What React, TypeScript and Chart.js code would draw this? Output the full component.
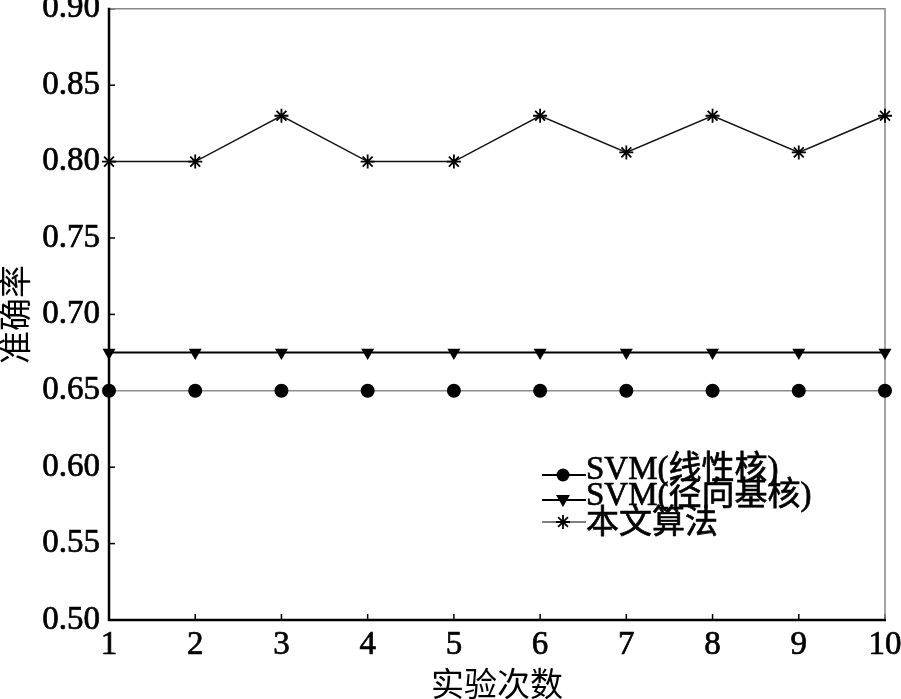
import { useEffect, useRef } from "react";
import { Chart, registerables } from "chart.js";

Chart.register(...registerables);

const runs = ["1", "2", "3", "4", "5", "6", "7", "8", "9", "10"];
const svmLinear = [0.65, 0.65, 0.65, 0.65, 0.65, 0.65, 0.65, 0.65, 0.65, 0.65];
const svmRbf = [0.675, 0.675, 0.675, 0.675, 0.675, 0.675, 0.675, 0.675, 0.675, 0.675];
const ours = [0.8, 0.8, 0.83, 0.8, 0.8, 0.83, 0.806, 0.83, 0.806, 0.83];
const seriesNames = ["SVM(线性核)", "SVM(径向基核)", "本文算法"];
const yMin = 0.5;
const yMax = 0.9;
const yStep = 0.05;
const xTitle = "实验次数";
const yTitle = "准确率";

const FONT = '"Liberation Serif", "Noto Sans CJK SC", serif';

function drawMarker(ctx: CanvasRenderingContext2D, kind: string, x: number, y: number) {
  ctx.save();
  ctx.fillStyle = "#000";
  ctx.strokeStyle = "#000";
  if (kind === "circle") {
    ctx.beginPath();
    ctx.arc(x, y, 6.5, 0, Math.PI * 2);
    ctx.fill();
  } else if (kind === "tri") {
    ctx.beginPath();
    ctx.moveTo(x - 7, y - 5);
    ctx.lineTo(x + 7, y - 5);
    ctx.lineTo(x, y + 7);
    ctx.closePath();
    ctx.fill();
  } else {
    ctx.lineWidth = 1.8;
    const r = 7;
    ctx.beginPath();
    for (let i = 0; i < 4; i++) {
      const a = (i * Math.PI) / 4;
      ctx.moveTo(x - r * Math.cos(a), y - r * Math.sin(a));
      ctx.lineTo(x + r * Math.cos(a), y + r * Math.sin(a));
    }
    ctx.stroke();
  }
  ctx.restore();
}

const framePlugin = {
  id: "frame",
  beforeDatasetsDraw(chart: any) {
    const { ctx, chartArea: a, scales } = chart;
    ctx.save();
    ctx.strokeStyle = "#000";
    ctx.lineWidth = 1.5;
    const ys = scales.y;
    for (let v = yMin; v <= yMax + 1e-9; v += yStep) {
      const py = ys.getPixelForValue(v);
      ctx.beginPath();
      ctx.moveTo(a.left, py);
      ctx.lineTo(a.left + 6, py);
      ctx.stroke();
    }
    const xs = scales.x;
    for (let i = 0; i < runs.length; i++) {
      const px = xs.getPixelForValue(i);
      ctx.beginPath();
      ctx.moveTo(px, a.bottom);
      ctx.lineTo(px, a.bottom - 6);
      ctx.stroke();
    }
    ctx.strokeStyle = "#888";
    ctx.lineWidth = 1.5;
    ctx.beginPath();
    ctx.moveTo(a.left, a.top);
    ctx.lineTo(a.right, a.top);
    ctx.lineTo(a.right, a.bottom);
    ctx.stroke();
    ctx.strokeStyle = "#000";
    ctx.lineWidth = 2.5;
    ctx.beginPath();
    ctx.moveTo(a.left, a.top - 1);
    ctx.lineTo(a.left, a.bottom);
    ctx.lineTo(a.right + 1, a.bottom);
    ctx.stroke();
    ctx.restore();
  },
  afterDraw(chart: any) {
    const { ctx } = chart;
    const kinds = ["circle", "tri", "star"];
    const rows = [475, 500, 522];
    const textY = [470, 496, 524];
    ctx.save();
    ctx.font = `33px ${FONT}`;
    ctx.textBaseline = "middle";
    ctx.fillStyle = "#000";
    for (let i = 0; i < seriesNames.length; i++) {
      const y = rows[i];
      ctx.strokeStyle = "#000";
      ctx.lineWidth = i === 2 ? 1.2 : 1.8;
      ctx.beginPath();
      ctx.moveTo(542, y);
      ctx.lineTo(586, y);
      ctx.stroke();
      drawMarker(ctx, kinds[i], 563, y);
      ctx.lineWidth = 0.7;
      ctx.strokeText(seriesNames[i], 586, textY[i]);
      ctx.fillText(seriesNames[i], 586, textY[i]);
    }
    ctx.restore();
  },
};

export default function App() {
  const ref = useRef<HTMLCanvasElement>(null);
  useEffect(() => {
    const canvas = ref.current!;
    const chart = new Chart(canvas, {
      type: "line",
      data: {
        labels: runs,
        datasets: [
          {
            label: seriesNames[0],
            data: svmLinear,
            borderColor: "#8c8c8c",
            borderWidth: 1.5,
            pointStyle: "circle",
            pointRadius: 7,
            pointBackgroundColor: "#000",
            pointBorderColor: "#000",
            pointBorderWidth: 0,
            clip: false,
          },
          {
            label: seriesNames[1],
            data: svmRbf,
            borderColor: "#000",
            borderWidth: 2,
            pointStyle: "triangle",
            rotation: 180,
            pointRadius: 7.5,
            pointBackgroundColor: "#000",
            pointBorderColor: "#000",
            pointBorderWidth: 0,
            clip: false,
          },
          {
            label: seriesNames[2],
            data: ours,
            borderColor: "#111",
            borderWidth: 1.5,
            pointStyle: "star",
            pointRadius: 7,
            pointBackgroundColor: "#000",
            pointBorderColor: "#000",
            pointBorderWidth: 1.8,
            clip: false,
          },
        ],
      },
      options: {
        responsive: false,
        animation: false,
        devicePixelRatio: 1,
        layout: { padding: { left: 0, top: 8, right: 16, bottom: 0 } },
        plugins: { legend: { display: false }, tooltip: { enabled: false } },
        scales: {
          x: {
            type: "category",
            offset: false,
            border: { display: false },
            grid: { display: false, drawTicks: false },
            ticks: {
              autoSkip: false,
              maxRotation: 0,
              padding: 6,
              color: "#000",
              textStrokeColor: "#000",
              textStrokeWidth: 0.7,
              font: { family: FONT, size: 33 },
            },
            title: {
              display: true,
              text: xTitle,
              color: "#000",
              padding: { top: 0, bottom: -5 },
              font: { family: FONT, size: 33, lineHeight: 1 },
            },
            afterFit(scale: any) {
              scale.height = 79;
              scale.paddingLeft = 0;
              scale.paddingRight = 0;
            },
          },
          y: {
            min: yMin,
            max: yMax,
            border: { display: false },
            grid: { display: false, drawTicks: false },
            ticks: {
              stepSize: yStep,
              padding: 9,
              color: "#000",
              textStrokeColor: "#000",
              textStrokeWidth: 0.7,
              font: { family: FONT, size: 33 },
              callback: (v: any) => Number(v).toFixed(2),
            },
            title: {
              display: true,
              text: yTitle,
              color: "#000",
              padding: { top: 2, bottom: 0 },
              font: { family: FONT, size: 33, lineHeight: 1 },
            },
            afterFit(scale: any) {
              scale.width = 109;
              scale.paddingTop = 0;
              scale.paddingBottom = 0;
            },
          },
        },
      },
      plugins: [framePlugin],
    } as any);
    return () => chart.destroy();
  }, []);
  return (
    <canvas
      ref={ref}
      width={901}
      height={699}
      style={{ position: "fixed", left: 0, top: 0, width: 901, height: 699, background: "#fff" }}
    />
  );
}
